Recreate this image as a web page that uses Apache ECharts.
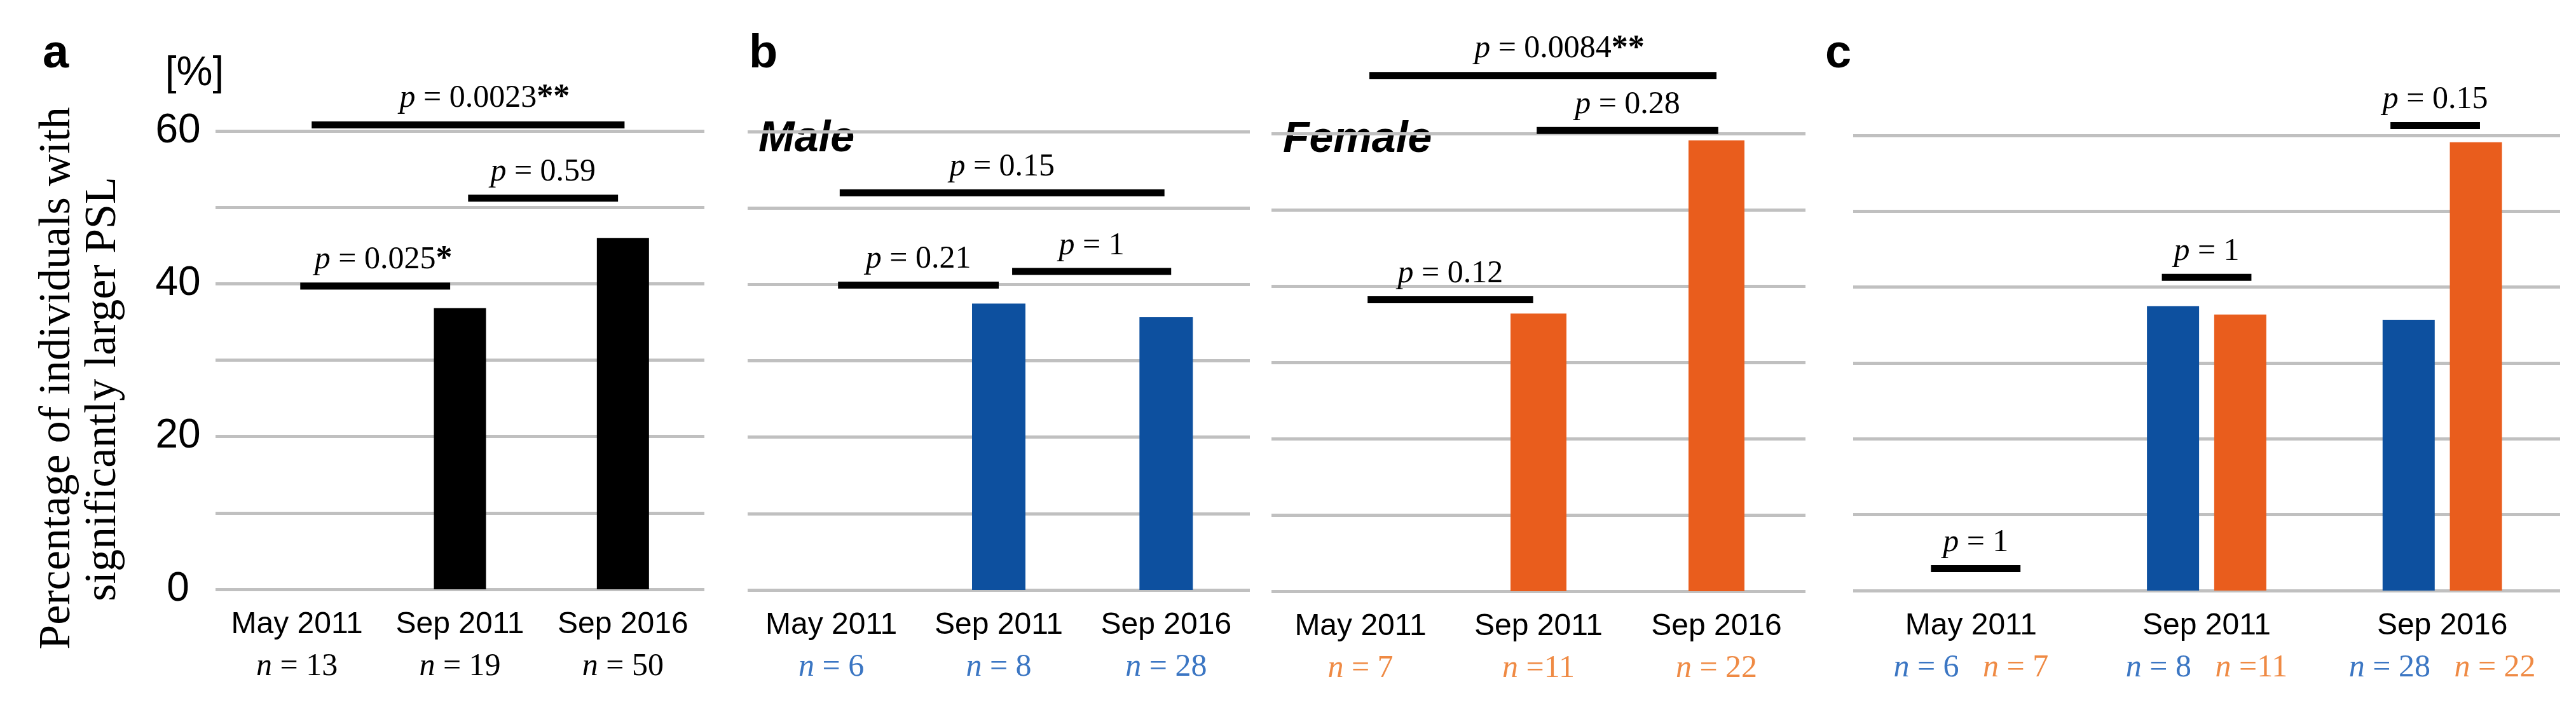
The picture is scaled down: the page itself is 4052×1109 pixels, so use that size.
<!DOCTYPE html>
<html>
<head>
<meta charset="utf-8">
<script src="https://cdn.jsdelivr.net/npm/echarts/dist/echarts.min.js"></script>
<style>
html,body{margin:0;padding:0;background:#fff;}
#chart{width:4052px;height:1109px;}
</style>
</head>
<body>
<div id="chart"></div>
<script>
// ---------------- data ----------------
const categories = ['May 2011', 'Sep 2011', 'Sep 2016'];
const allPct    = [0, 36.8, 46.0];
const malePct   = [0, 37.5, 35.7];
const femalePct = [0, 36.4, 59.1];
const allNLabels    = ['= 13', '= 19', '= 50'];
const maleNLabels   = ['= 6', '= 8', '= 28'];
const femaleNLabels = ['= 7', '=11', '= 22'];
const yTicks = [0, 20, 40, 60];
// significance brackets: [fromCategory, toCategory, height (%), p-value, stars]
const sigAll    = [[0, 2, 60.8, '0.0023', '**'], [1, 2, 51.2, '0.59', ''], [0, 1, 39.7, '0.025', '*']];
const sigMale   = [[0, 2, 52.0, '0.15', ''], [0, 1, 39.9, '0.21', ''], [1, 2, 41.7, '1', '']];
const sigFemale = [[0, 2, 67.6, '0.0084', '**'], [1, 2, 60.4, '0.28', ''], [0, 1, 38.2, '0.12', '']];
const sigBoth   = [[2, 2, 61.3, '0.15', ''], [1, 1, 41.3, '1', ''], [0, 0, 2.9, '1', '']];

// ---------------- layout / style (not data) ----------------
const BLUE = '#0d509f', ORANGE = '#e95d1d', NBLUE = '#3b76c3', NORANGE = '#ef8a44';
const GRID_COLOR = '#c0c0c0';
const SANS = 'Liberation Sans, Arial, sans-serif';
const SERIF = 'Liberation Serif, Times New Roman, serif';
// insets of bracket ends as fraction of category band
const insetAll    = [[0.09, 0.01], [0.05, -0.03], [0.02, -0.06]];
const insetMale   = [[0.05, -0.01], [0.04, 0.0], [0.08, 0.03]];
const insetFemale = [[0.05, 0.0], [-0.01, 0.01], [0.04, -0.03]];
const insetBoth   = [[-0.22, 0.16], [-0.19, 0.19], [-0.17, 0.21]];

const grids = [
  {left: 339,  top: 206, width: 769,  height: 721},
  {left: 1176, top: 207, width: 790,  height: 721},
  {left: 2000, top: 210, width: 840,  height: 720},
  {left: 2915, top: 213, width: 1112, height: 716}
];

function nRich(color) {
  const L = 70;
  return {
    d:  {fontFamily: SANS, fontSize: 48, color: '#000', lineHeight: 62},
    ni: {fontFamily: SERIF, fontStyle: 'italic', fontSize: 50, color: color, lineHeight: L},
    nv: {fontFamily: SERIF, fontSize: 50, color: color, lineHeight: L},
    mi: {fontFamily: SERIF, fontStyle: 'italic', fontSize: 50, color: NBLUE, lineHeight: L},
    mv: {fontFamily: SERIF, fontSize: 50, color: NBLUE, lineHeight: L},
    fi: {fontFamily: SERIF, fontStyle: 'italic', fontSize: 50, color: NORANGE, lineHeight: L},
    fv: {fontFamily: SERIF, fontSize: 50, color: NORANGE, lineHeight: L},
    sp: {fontFamily: SERIF, fontSize: 50, lineHeight: L}
  };
}

function xAxisFor(gi, labels, color, both) {
  return {
    type: 'category', gridIndex: gi, data: categories,
    axisLine: {show: false}, axisTick: {show: false},
    axisLabel: {
      interval: 0, margin: 25,
      formatter: function (v, i) {
        if (both) return '{d|' + v + '}\n{mi|n}{mv| ' + maleNLabels[i] + '}{sp|   }{fi|n}{fv| ' + femaleNLabels[i] + '}';
        return '{d|' + v + '}\n{ni|n}{nv| ' + labels[i] + '}';
      },
      rich: nRich(color)
    }
  };
}

function yAxisFor(gi, showLabels) {
  return {
    type: 'value', gridIndex: gi, min: 0, max: 60, interval: 10,
    axisLine: {show: false}, axisTick: {show: false},
    splitLine: {show: true, lineStyle: {color: GRID_COLOR, width: 5}},
    axisLabel: {
      show: showLabels, align: 'center', margin: 59,
      fontFamily: SANS, fontSize: 64, color: '#000',
      formatter: function (v) { return yTicks.indexOf(v) >= 0 ? String(v) : ''; }
    }
  };
}

function bracketSeries(gi, rows, insets) {
  return {
    type: 'custom', xAxisIndex: gi, yAxisIndex: gi, clip: false, z: 5,
    silent: true,
    encode: {x: 0, y: 1},
    data: rows.map(function (r) { return [r[0], r[2]]; }),
    renderItem: function (params, api) {
      const r = rows[params.dataIndex];
      const ins = insets[params.dataIndex];
      const bw = api.size([1, 0])[0];
      const p1 = api.coord([r[0], r[2]]);
      const p2 = api.coord([r[1], r[2]]);
      const x1 = p1[0] + ins[0] * bw;
      const x2 = p2[0] + ins[1] * bw;
      const y = p1[1];
      const th = 11;
      const starShift = r[4].length * 13;
      return {
        type: 'group',
        children: [
          {type: 'rect', shape: {x: x1, y: y - th / 2, width: x2 - x1, height: th}, style: {fill: '#000'}},
          {type: 'text', style: {
            x: (x1 + x2) / 2 + starShift, y: y - th / 2 - 10,
            text: '{i|p}{r| = ' + r[3] + '}' + (r[4] ? '{s|' + r[4] + '}' : ''),
            align: 'center', verticalAlign: 'bottom',
            rich: {
              i: {fontFamily: SERIF, fontStyle: 'italic', fontSize: 50, fill: '#000'},
              r: {fontFamily: SERIF, fontSize: 50, fill: '#000'},
              s: {fontFamily: SERIF, fontWeight: 'bold', fontSize: 52, fill: '#000'}
            }
          }}
        ]
      };
    }
  };
}

const chart = echarts.init(document.getElementById('chart'), null, {renderer: 'canvas'});
chart.setOption({
  backgroundColor: '#fff',
  animation: false,
  grid: grids,
  xAxis: [
    xAxisFor(0, allNLabels, '#000', false),
    xAxisFor(1, maleNLabels, NBLUE, false),
    xAxisFor(2, femaleNLabels, NORANGE, false),
    xAxisFor(3, null, null, true)
  ],
  yAxis: [yAxisFor(0, true), yAxisFor(1, false), yAxisFor(2, false), yAxisFor(3, false)],
  series: [
    {type: 'bar', xAxisIndex: 0, yAxisIndex: 0, data: allPct, barWidth: 82, itemStyle: {color: '#000'}, z: 3},
    {type: 'bar', xAxisIndex: 1, yAxisIndex: 1, data: malePct, barWidth: 84, itemStyle: {color: BLUE}, z: 3},
    {type: 'bar', xAxisIndex: 2, yAxisIndex: 2, data: femalePct, barWidth: 88, itemStyle: {color: ORANGE}, z: 3},
    {type: 'bar', xAxisIndex: 3, yAxisIndex: 3, data: malePct, barWidth: 82, barGap: '29%', itemStyle: {color: BLUE}, z: 3},
    {type: 'bar', xAxisIndex: 3, yAxisIndex: 3, data: femalePct, barWidth: 82, barGap: '29%', itemStyle: {color: ORANGE}, z: 3},
    bracketSeries(0, sigAll, insetAll),
    bracketSeries(1, sigMale, insetMale),
    bracketSeries(2, sigFemale, insetFemale),
    bracketSeries(3, sigBoth, insetBoth)
  ],
  graphic: [
    {type: 'text', x: 67, y: 86, style: {text: 'a', font: 'bold 74px ' + SANS, fill: '#000', align: 'left', verticalAlign: 'middle'}},
    {type: 'text', x: 1178, y: 86, style: {text: 'b', font: 'bold 74px ' + SANS, fill: '#000', align: 'left', verticalAlign: 'middle'}},
    {type: 'text', x: 2871, y: 86, style: {text: 'c', font: 'bold 74px ' + SANS, fill: '#000', align: 'left', verticalAlign: 'middle'}},
    {type: 'text', x: 306, y: 116, style: {text: '[%]', font: '64px ' + SANS, fill: '#000', align: 'center', verticalAlign: 'middle'}},
    {type: 'text', x: 1193, y: 219, style: {text: 'Male', font: 'italic bold 68px ' + SANS, fill: '#000', align: 'left', verticalAlign: 'middle'}},
    {type: 'text', x: 2018, y: 220, style: {text: 'Female', font: 'italic bold 68px ' + SANS, fill: '#000', align: 'left', verticalAlign: 'middle'}},
    {type: 'text', x: 91, y: 595, rotation: Math.PI / 2, style: {text: 'Percentage of individuals with', font: '70px ' + SERIF, fill: '#000', align: 'center', verticalAlign: 'middle'}},
    {type: 'text', x: 163, y: 612, rotation: Math.PI / 2, style: {text: 'significantly larger PSL', font: '70px ' + SERIF, fill: '#000', align: 'center', verticalAlign: 'middle'}}
  ]
});
</script>
</body>
</html>
